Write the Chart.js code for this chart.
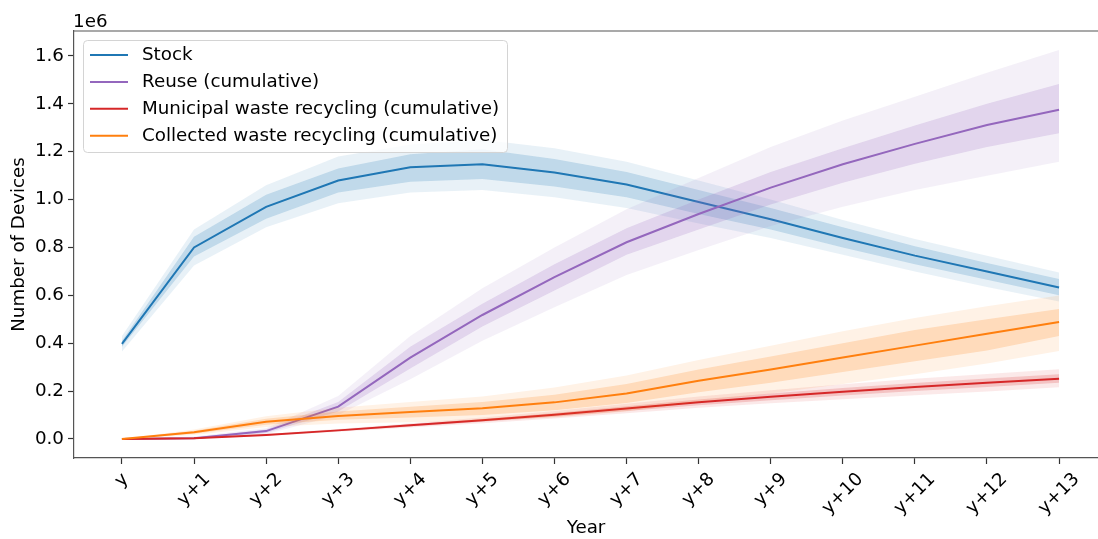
<!DOCTYPE html>
<html>
<head>
<meta charset="utf-8">
<script src="https://cdn.jsdelivr.net/npm/chart.js@4"></script>
<style>
  html, body { margin: 0; padding: 0; background: #fff; overflow: hidden; }
  canvas { display: block; }
</style>
</head>
<body>
<canvas id="chart" width="1098" height="539"></canvas>
<script>
// categories
const years = ['y', 'y+1', 'y+2', 'y+3', 'y+4', 'y+5', 'y+6', 'y+7', 'y+8', 'y+9', 'y+10', 'y+11', 'y+12', 'y+13'];
const yTickValues = [0, 200000, 400000, 600000, 800000, 1000000, 1200000, 1400000, 1600000];

// Stock
const stockMean    = [397000, 800000, 970000, 1080000, 1135000, 1148000, 1113000, 1063000, 990000, 918000, 840000, 766000, 700000, 633000];
const stockInnerLo = [385000, 762000, 920000, 1030000, 1075000, 1086000, 1055000, 1010000, 940000, 875000, 800000, 730000, 665000, 600000];
const stockInnerHi = [410000, 845000, 1020000, 1130000, 1190000, 1210000, 1170000, 1115000, 1040000, 965000, 885000, 805000, 735000, 668000];
const stockOuterLo = [365000, 725000, 885000, 985000, 1030000, 1040000, 1010000, 965000, 900000, 840000, 770000, 700000, 635000, 574000];
const stockOuterHi = [430000, 875000, 1060000, 1180000, 1230000, 1250000, 1215000, 1158000, 1080000, 1000000, 915000, 835000, 765000, 695000];

// Reuse (cumulative)
const reuseMean    = [0, 3000, 33000, 135000, 340000, 518000, 676000, 822000, 940000, 1050000, 1148000, 1233000, 1312000, 1375000];
const reuseInnerLo = [0, 0, 25000, 115000, 295000, 470000, 620000, 770000, 875000, 980000, 1070000, 1150000, 1220000, 1277000];
const reuseInnerHi = [0, 6000, 40000, 155000, 385000, 565000, 730000, 880000, 1000000, 1115000, 1215000, 1310000, 1400000, 1483000];
const reuseOuterLo = [0, 0, 20000, 100000, 250000, 410000, 550000, 685000, 790000, 890000, 970000, 1040000, 1100000, 1158000];
const reuseOuterHi = [0, 10000, 45000, 180000, 430000, 630000, 800000, 960000, 1090000, 1220000, 1330000, 1430000, 1530000, 1625000];

// Municipal waste recycling (cumulative)
const muniMean    = [0, 3000, 17000, 36000, 57000, 78000, 101000, 127000, 153000, 176000, 197000, 217000, 235000, 252000];
const muniInnerLo = [0, 2000, 15000, 33000, 52000, 72000, 93000, 117000, 141000, 162000, 182000, 200000, 217000, 235000];
const muniInnerHi = [0, 4000, 19000, 39000, 62000, 84000, 109000, 137000, 165000, 190000, 213000, 234000, 253000, 270000];
const muniOuterLo = [0, 1000, 13000, 30000, 48000, 66000, 86000, 108000, 130000, 149000, 166000, 183000, 198000, 216000];
const muniOuterHi = [0, 5000, 21000, 42000, 66000, 90000, 117000, 147000, 177000, 204000, 229000, 252000, 272000, 291000];

// Collected waste recycling (cumulative)
const collMean    = [0, 28000, 72000, 96000, 113000, 128000, 153000, 190000, 243000, 290000, 340000, 390000, 440000, 489000];
const collInnerLo = [0, 22000, 60000, 80000, 90000, 100000, 120000, 150000, 195000, 235000, 280000, 325000, 370000, 430000];
const collInnerHi = [0, 34000, 85000, 115000, 135000, 155000, 185000, 230000, 290000, 345000, 400000, 455000, 500000, 543000];
const collOuterLo = [0, 17000, 50000, 65000, 70000, 75000, 90000, 115000, 155000, 190000, 230000, 270000, 315000, 368000];
const collOuterHi = [0, 40000, 95000, 130000, 155000, 178000, 215000, 265000, 330000, 390000, 450000, 505000, 555000, 600000];

const FSIZE = 18.3;
const FONT = FSIZE + 'px "DejaVu Sans"';
const SPINE = '#555';

const datasets = [];
const legendItems = [];

function pts(arr) {
    return arr.map((v, i) => ({x: i, y: v}));
}
function rgba(rgb, a) {
    return 'rgba(' + rgb.join(',') + ',' + a + ')';
}
function bandEdge(arr, fill, bg) {
    return {
        data: pts(arr),
        borderColor: 'rgba(0,0,0,0)',
        borderWidth: 1,
        backgroundColor: bg || 'rgba(0,0,0,0)',
        pointRadius: 0,
        fill: fill,
        tension: 0
    };
}
function addSeries(label, rgb, mean, inLo, inHi, outLo, outHi) {
    datasets.push(bandEdge(outLo, false));
    datasets.push(bandEdge(outHi, '-1', rgba(rgb, 0.1)));
    datasets.push(bandEdge(inLo, false));
    datasets.push(bandEdge(inHi, '-1', rgba(rgb, 0.2)));
    datasets.push({
        label: label,
        data: pts(mean),
        borderColor: rgba(rgb, 1),
        borderWidth: 2,
        pointRadius: 0,
        fill: false,
        tension: 0
    });
    legendItems.push({label: label, color: rgba(rgb, 1)});
}

addSeries('Stock', [31, 119, 180], stockMean, stockInnerLo, stockInnerHi, stockOuterLo, stockOuterHi);
addSeries('Reuse (cumulative)', [148, 103, 189], reuseMean, reuseInnerLo, reuseInnerHi, reuseOuterLo, reuseOuterHi);
addSeries('Municipal waste recycling (cumulative)', [214, 39, 40], muniMean, muniInnerLo, muniInnerHi, muniOuterLo, muniOuterHi);
addSeries('Collected waste recycling (cumulative)', [255, 127, 14], collMean, collInnerLo, collInnerHi, collOuterLo, collOuterHi);

// later datasets drawn on top, like matplotlib
datasets.forEach((d, i) => { d.order = -i; });

const decor = {
    id: 'decor',
    afterDraw(chart) {
        const ctx = chart.ctx;
        const a = chart.chartArea;
        const x = chart.scales.x;
        ctx.save();
        // top spine
        ctx.strokeStyle = SPINE;
        ctx.lineWidth = 1.2;
        ctx.beginPath();
        ctx.moveTo(a.left, a.top);
        ctx.lineTo(a.right, a.top);
        ctx.stroke();

        ctx.font = FONT;
        ctx.fillStyle = '#000';
        // offset text
        ctx.textAlign = 'left';
        ctx.textBaseline = 'alphabetic';
        ctx.fillText('1e6', a.left - 1, a.top - 4.5);

        // rotated x tick labels, centred under the tick
        const y0 = a.bottom + 12;
        years.forEach((t, i) => {
            const px = x.getPixelForValue(i);
            const w = ctx.measureText(t).width;
            const H = (w + FSIZE) / Math.SQRT2;
            ctx.save();
            ctx.translate(px, y0 + H / 2);
            ctx.rotate(-Math.PI / 4);
            ctx.textAlign = 'center';
            ctx.textBaseline = 'middle';
            ctx.fillText(t, 0, 0);
            ctx.restore();
        });

        // legend box
        ctx.beginPath();
        ctx.roundRect(83.5, 40.5, 424, 112, 4);
        ctx.fillStyle = 'rgba(255,255,255,0.8)';
        ctx.fill();
        ctx.strokeStyle = '#d4d4d4';
        ctx.lineWidth = 1;
        ctx.stroke();
        legendItems.forEach((it, i) => {
            const yy = 55 + i * 26.9;
            ctx.strokeStyle = it.color;
            ctx.lineWidth = 2;
            ctx.beginPath();
            ctx.moveTo(90, yy);
            ctx.lineTo(128, yy);
            ctx.stroke();
            ctx.fillStyle = '#000';
            ctx.textAlign = 'left';
            ctx.textBaseline = 'middle';
            ctx.fillText(it.label, 142, yy + 0.5);
        });
        ctx.restore();
    }
};

Chart.defaults.font.family = '"DejaVu Sans"';
Chart.defaults.font.size = FSIZE;
Chart.defaults.color = '#000';

const config = {
    type: 'line',
    data: { datasets },
    options: {
        responsive: false,
        animation: false,
        events: [],
        layout: {
            padding: { top: 31, right: 0, bottom: 0, left: 0 }
        },
        plugins: {
            legend: { display: false },
            tooltip: { enabled: false },
            filler: { propagate: false }
        },
        scales: {
            x: {
                type: 'linear',
                min: -0.665,
                max: 13.54,
                afterBuildTicks(scale) {
                    scale.ticks = years.map((_, i) => ({value: i}));
                },
                afterFit(scale) { scale.height = 81; },
                ticks: { display: false },
                grid: {
                    display: true,
                    drawOnChartArea: false,
                    drawTicks: true,
                    tickLength: 6,
                    tickColor: '#333',
                    tickWidth: 1.2
                },
                border: { display: true, color: SPINE, width: 1.2 },
                title: {
                    display: true,
                    text: 'Year',
                    font: { size: FSIZE },
                    padding: { top: 0, bottom: 0 }
                }
            },
            y: {
                type: 'linear',
                min: -79400,
                max: 1704400,
                afterBuildTicks(scale) {
                    scale.ticks = yTickValues.map(v => ({value: v}));
                },
                afterFit(scale) { scale.width = 74; },
                ticks: {
                    padding: 4,
                    callback: (v) => (v / 1e6).toFixed(1)
                },
                grid: {
                    display: true,
                    drawOnChartArea: false,
                    drawTicks: true,
                    tickLength: 6,
                    tickColor: '#333',
                    tickWidth: 1.2
                },
                border: { display: true, color: SPINE, width: 1.2 },
                title: {
                    display: true,
                    text: 'Number of Devices',
                    font: { size: FSIZE },
                    padding: { top: 8.5, bottom: 0 }
                }
            }
        }
    },
    plugins: [decor]
};

var chart = document.getElementById('chart');
var myChart = new Chart(chart, config);
</script>
</body>
</html>
